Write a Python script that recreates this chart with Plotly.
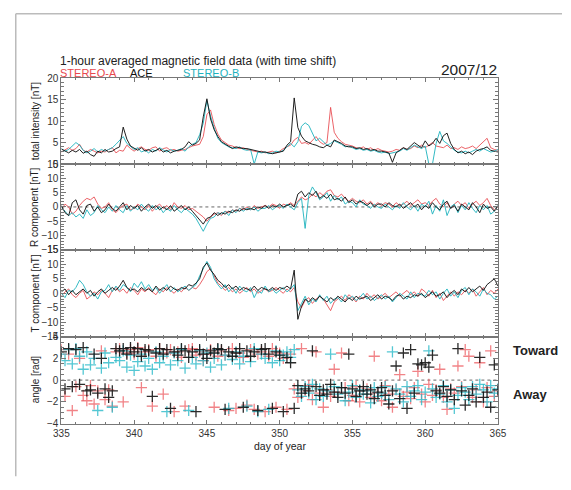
import numpy as np
import plotly.graph_objects as go

# ---------------- data (sampled every 0.25 day from day 335) ----------------
t0 = 335.0
dt = 0.25

btot_ace = [3.5,3.0,2.6,3.2, 2.8,3.4,2.5,3.0, 2.2,1.8,3.0,2.6, 3.4,2.8,3.0,3.6,
            4.0,8.6,5.8,4.2, 3.6,3.2,3.8,3.0, 3.4,2.8,3.2,3.6, 2.8,3.2,2.6,3.0,
            3.2,3.4,4.0,5.2, 4.4,4.8,5.6,11.0, 15.2,10.5,8.0,6.4, 5.2,4.6,4.0,3.6,
            4.0,3.8,3.6,3.6, 3.4,3.2,3.0,2.8, 2.8,2.6,2.4,2.6, 2.8,3.0,4.4,5.2,
            15.4,8.5,6.5,5.4, 5.0,4.6,4.4,4.0, 3.8,4.4,4.0,5.6, 5.2,4.8,4.2,4.0,
            4.0,3.6,3.8,3.4, 3.6,3.2,3.4,3.0, 3.0,2.8,2.6,0.4, 2.6,3.2,3.8,3.4,
            4.2,5.0,4.4,3.8, 5.4,4.2,4.8,6.0, 4.8,6.6,7.2,4.8, 3.4,2.6,3.0,2.4,
            2.8,2.2,3.0,3.4, 3.6,4.0,3.2,3.0, 2.8]
btot_sta = [2.8,3.4,3.8,3.2, 3.6,4.6,3.2,2.8, 3.4,3.0,2.6,3.0, 2.8,3.4,3.8,2.6,
            3.2,3.0,4.4,3.6, 3.0,3.6,4.0,3.4, 3.2,3.8,4.0,3.0, 3.6,3.8,3.2,3.4,
            3.0,3.2,3.4,3.8, 4.2,4.4,4.6,6.4, 11.5,12.6,9.2,7.0, 5.6,5.0,4.4,4.2,
            3.8,3.6,3.8,3.4, 3.2,3.0,2.8,3.0, 2.6,2.8,3.0,2.6, 3.0,3.6,4.0,4.4,
            5.6,6.2,4.8,5.0, 4.6,5.4,6.4,5.2, 4.6,5.0,13.2,7.4, 6.0,5.2,4.6,4.4,
            4.2,3.8,3.6,4.0, 3.4,3.8,3.2,3.6, 3.2,3.0,2.8,3.0, 3.4,3.2,3.8,3.4,
            3.6,4.2,3.8,4.4, 3.8,4.4,5.0,4.2, 4.0,3.8,4.4,3.6, 3.8,3.4,4.0,3.6,
            3.8,4.2,3.6,4.4, 5.0,6.0,3.8,3.4, 3.2]
btot_stb = [3.6,3.0,3.4,4.2, 5.0,4.4,3.2,2.6, 3.0,3.6,2.8,3.4, 3.0,3.4,3.8,4.6,
            5.6,6.4,4.8,4.0, 3.4,3.8,2.8,3.2, 2.6,3.4,3.0,3.8, 3.2,2.8,3.4,3.0,
            3.2,3.6,3.0,4.0, 4.6,5.0,6.8,9.5, 14.8,11.2,8.4,6.0, 5.0,4.4,4.0,3.8,
            3.6,4.0,3.4,3.2, 3.4,0.0,2.8,2.6, 2.8,2.4,2.6,3.0, 2.8,3.2,4.0,4.8,
            4.0,5.2,8.8,9.6, 9.0,7.2,5.4,6.0, 5.2,4.4,4.8,5.4, 5.0,4.6,4.0,4.2,
            3.8,3.4,3.6,3.2, 3.4,3.0,3.2,2.8, 2.6,2.8,2.4,2.6, 2.8,3.0,3.6,3.2,
            3.8,4.4,4.0,3.6, 4.2,0.0,0.0,4.8, 7.6,5.4,4.8,4.0, 3.2,2.8,2.6,3.0,
            2.6,3.0,3.4,3.0, 3.6,3.2,2.8,3.0, 3.4]

br_ace = [0.5,-2.0,-3.0,1.5, 2.5,-1.0,-2.5,0.5, 1.0,-1.5,0.0,-2.0, -1.0,1.0,-0.5,-1.5,
          0.0,1.5,-1.0,0.5, -0.5,0.5,-1.5,0.0, 1.0,-0.5,0.5,-1.0, 0.0,-1.0,0.5,-1.5,
          -0.5,0.5,-1.0,0.0, -1.5,-3.0,-4.5,-6.0, -4.0,-3.5,-2.0,-3.0, -2.0,-2.5,-1.5,-2.0,
          -1.0,-1.5,-0.5,-1.0, -0.5,-1.0,0.0,-0.5, 0.5,-0.5,0.5,0.0, 1.0,0.0,0.5,1.0,
          0.0,4.5,5.5,3.5, 5.0,4.0,5.5,3.0, 4.0,3.0,4.5,2.5, 3.0,2.0,3.5,1.5,
          2.5,1.0,2.0,1.5, 0.5,1.5,0.0,1.0, 1.0,0.0,1.5,0.5, 0.0,1.0,-0.5,0.5,
          1.5,0.0,1.0,-1.0, 0.5,-0.5,1.5,0.0, -1.0,1.0,2.0,-0.5, 0.5,-1.5,1.0,0.0,
          -1.0,1.5,0.0,-2.0, 1.0,-0.5,0.0,-1.5, 0.5]
br_sta = [-1.0,1.0,0.0,-2.5, -1.5,0.5,2.0,3.0, 2.5,3.5,1.0,-0.5, 0.0,1.5,-1.0,-2.0,
          -0.5,0.5,1.0,-1.0, -0.5,1.0,0.0,-1.0, 0.5,-1.5,0.0,1.0, -0.5,0.5,-1.0,1.5,
          0.0,-0.5,0.5,-1.0, -0.5,-1.5,-2.5,-3.5, -5.0,-3.5,-2.5,-2.0, -3.0,-1.5,-2.0,-1.0,
          -1.5,-0.5,-1.0,0.0, -1.0,0.5,-0.5,0.0, 0.5,0.0,1.0,0.5, -0.5,1.0,0.5,1.5,
          0.5,2.0,3.5,2.5, 3.0,4.5,3.5,5.0, 4.0,5.5,6.0,4.0, 3.5,4.5,3.0,2.0,
          3.0,2.0,1.5,2.5, 1.0,2.0,0.5,1.5, 0.5,1.5,1.0,0.0, 1.5,0.5,1.0,2.0,
          0.5,1.5,2.5,1.0, 1.5,0.5,2.0,3.0, 1.0,0.0,1.5,-0.5, 1.0,2.0,0.5,1.5,
          -0.5,1.0,2.0,0.5, 1.5,3.0,0.5,-1.0, 0.0]
br_stb = [0.0,-1.5,-3.0,-2.0, -3.5,-2.5,-4.0,-1.0, -3.0,-2.0,0.5,-1.0, -2.0,0.0,-1.5,0.5,
          -1.0,-2.0,0.5,-1.5, 0.0,-1.0,1.0,-0.5, -1.5,0.5,-1.0,0.0, -2.0,-0.5,-1.5,0.5,
          -1.0,-2.0,-0.5,-1.5, -2.5,-4.0,-6.5,-8.5, -6.0,-4.0,-3.5,-2.0, -2.5,-1.5,-3.0,-1.0,
          -2.0,-0.5,-1.5,-0.5, -1.0,0.0,-1.5,-0.5, -0.5,0.5,-1.0,0.0, 0.5,-0.5,1.0,0.0,
          -1.0,1.5,3.0,-7.5, 4.0,7.0,5.0,2.5, 3.5,5.0,2.0,4.0, 2.5,3.5,1.0,2.0,
          1.5,0.0,2.5,1.0, 0.5,-0.5,1.0,0.0, -0.5,1.0,0.0,-1.0, 0.5,-0.5,1.5,0.0,
          -1.0,0.5,-1.5,1.0, 0.0,2.0,-2.5,0.5, -1.5,2.5,-3.0,0.0, 1.0,-2.0,0.5,-1.0,
          1.5,-0.5,-2.0,0.5, -1.0,0.5,-2.5,-1.5, 0.5]

bt_ace = [0.5,1.5,-0.5,1.0, -0.5,0.5,1.5,0.0, 1.0,-1.0,0.5,1.5, 0.0,1.0,2.0,1.0,
          2.5,4.5,2.0,1.0, 1.5,0.5,2.0,1.0, 1.5,0.5,2.5,1.0, 2.0,1.0,2.5,1.5,
          1.0,2.0,1.5,3.0, 2.5,3.5,5.0,9.0, 10.5,8.0,6.5,4.5, 3.5,2.0,3.0,1.5,
          2.5,1.0,2.0,1.5, 1.0,2.5,1.0,2.0, 1.5,1.0,2.0,1.0, 2.0,1.5,2.5,1.5,
          8.0,-9.0,-4.5,-2.0, -3.0,-1.5,-2.5,-1.0, -2.0,-3.0,-1.5,-2.5, -1.0,-2.0,-3.0,-1.5,
          -2.5,-1.0,-2.0,-1.5, -1.0,-2.5,-1.5,-0.5, -2.0,-1.0,-1.5,-2.5, -1.0,-0.5,-2.0,-1.0,
          -1.5,-0.5,-1.0,0.0, -1.5,-0.5,0.5,-1.0, -0.5,0.5,-1.5,0.0, 1.0,-0.5,1.5,0.5,
          2.0,0.5,1.5,2.5, 1.0,3.0,4.0,5.0, 2.5]
bt_sta = [-1.0,0.5,1.5,-0.5, -1.5,0.0,1.0,-2.0, -1.0,0.5,-0.5,1.0, 0.0,-1.5,1.0,2.0,
          0.5,1.5,0.0,2.0, 1.0,-0.5,1.5,0.5, 2.0,0.5,-0.5,1.5, 0.5,2.0,1.0,0.0,
          1.5,0.5,2.0,1.0, 2.0,1.5,3.0,5.0, 7.5,8.5,6.0,3.5, 2.5,1.0,2.0,0.5,
          1.5,0.0,1.0,2.0, 0.5,1.5,0.0,1.0, 1.5,0.5,1.0,2.0, 1.0,0.0,1.5,0.5,
          2.0,-3.0,-5.0,-2.5, -1.5,-3.5,-2.0,-1.0, -2.0,-4.0,-6.0,-3.0, -2.0,-1.0,-2.5,-0.5,
          -1.5,-3.0,-1.0,-2.0, 0.0,-1.5,-0.5,-2.0, -1.0,0.0,-1.5,-0.5, 0.5,-1.0,0.0,1.0,
          -0.5,0.5,-1.0,1.5, 0.5,-1.0,1.0,-1.5, 0.0,-2.5,-1.0,0.5, -1.0,0.5,-0.5,1.0,
          0.0,1.5,-1.0,0.5, 2.0,-0.5,1.0,0.0, 1.5]
bt_stb = [0.0,-1.5,1.0,0.5, 2.0,4.5,3.0,0.5, -1.0,0.0,-2.0,0.5, 1.0,3.0,0.5,2.5,
          1.0,3.0,2.0,0.5, 3.5,2.0,4.0,1.5, 3.0,1.0,2.0,0.0, 1.5,3.0,0.5,2.0,
          0.5,1.5,2.5,1.0, 2.0,3.0,6.0,8.5, 11.0,9.0,5.0,3.0, 1.5,3.0,0.5,2.0,
          0.0,2.5,1.0,0.5, 2.0,-1.5,1.0,0.0, 2.5,0.5,1.5,0.0, 1.0,2.0,0.5,1.5,
          3.0,-6.0,-3.5,-1.0, -4.0,-2.0,-3.0,-0.5, -2.5,-1.0,-3.5,-2.0, -1.5,-3.0,-0.5,-2.0,
          -1.0,-2.5,-1.5,0.0, -2.0,-1.0,-2.5,-1.5, -0.5,-2.0,-1.0,-3.0, -1.5,0.0,-1.0,-2.0,
          0.5,-1.5,0.0,-0.5, -1.0,1.0,-0.5,0.5, -2.0,0.0,1.5,-1.0, 0.5,-1.5,1.0,2.0,
          -0.5,1.5,0.5,-1.0, 1.5,0.0,-0.5,-2.0, -1.0]

ang_ace = [2.6,-0.8,2.9,-0.6, 2.8,-0.4,3.0,-1.0, -0.9,2.4,-1.2,2.0, -0.8,-1.6,-1.0,2.9,
           2.7,2.9,2.4,3.0, 2.6,2.9,2.2,2.8, 2.7,-1.5,2.5,2.9, 2.4,2.8,-2.6,2.6,
           2.3,2.9,2.7,2.1, 2.6,-2.9,2.8,2.4, 2.0,2.7,2.5,2.9, 2.8,-2.7,2.6,2.2,
           2.5,2.9,-2.5,2.7, 2.2,2.6,-2.8,2.8, 2.9,2.4,-2.6,2.6, 2.3,-2.9,2.1,1.6,
           -2.6,-0.5,-1.2,-0.8, -1.0,2.7,-0.6,-1.4, -0.9,-1.3,-0.4,-1.1, -1.6,-0.7,-1.2,2.4,
           -0.8,-1.5,-1.0,-0.6, -1.3,-0.9,-1.7,-1.1, -0.7,-1.4,-2.2,-1.0, 1.3,-1.7,2.5,-2.6,
           2.8,-1.2,1.5,1.4, 1.6,1.2,2.3,-1.0, -1.2,-0.6,-1.5,-0.9, -1.8,2.9,-1.0,-2.3,
           -1.4,-0.8,-2.0,2.1, -1.6,-1.1,-2.5,1.4, -0.9]
ang_sta = [2.8,-1.5,2.4,-2.8, -0.6,2.0,-1.4,-1.9, -0.5,-2.2,-1.0,2.7, -1.8,-0.9,-2.4,2.6,
           2.9,-2.0,2.5,2.8, 2.4,3.0,-0.7,2.6, 2.8,-2.4,2.2,2.9, -1.3,2.5,2.8,-2.9,
           2.6,2.1,-2.4,2.8, 2.9,2.3,2.6,1.8, 2.4,2.8,-2.5,2.2, 2.7,2.3,-2.8,2.9,
           -2.6,2.5,2.1,-2.3, 2.8,-2.7,2.4,2.6, -2.9,2.2,2.9,-2.5, 2.5,2.0,-2.7,2.4,
           -0.8,-1.6,2.9,-1.0, -0.5,-1.8,2.6,-1.2, -2.5,-0.9,-1.5,1.0, -1.1,2.5,-0.7,-1.9,
           -1.4,-0.6,-2.0,-1.0, -0.8,-1.6,2.2,-1.2, -1.9,-0.5,-1.3,-2.5, -0.9,0.5,-1.5,-1.1,
           -1.7,-0.7,0.8,-1.3, -2.0,-0.4,-1.4,-0.9, 1.0,-1.6,-2.7,-0.8, -1.2,1.3,-0.6,2.8,
           2.2,-1.6,-0.9,1.6, -2.0,-0.7,2.7,-1.5, -1.0]
ang_stb = [2.4,1.8,2.8,1.5, 2.9,2.2,1.0,2.6, 1.4,2.0,-2.8,1.1, 2.5,1.6,-2.5,2.1,
           1.8,2.7,1.2,2.3, 0.9,1.7,2.4,1.3, 2.0,1.0,2.6,1.6, 2.2,-2.9,1.4,2.5,
           1.8,2.8,1.1,-2.8, 2.1,1.5,2.7,1.8, 2.5,1.2,2.0,2.8, 1.4,2.3,-2.6,1.9,
           2.6,1.5,2.2,-2.4, 1.7,2.9,-2.9,2.4, 2.0,-2.7,1.6,2.7, 1.8,2.3,2.6,2.1,
           2.8,-0.9,-1.5,-0.6, -1.2,-0.4,-1.8,-0.8, -1.5,-1.0,2.4,-0.6, -1.3,-0.7,-1.9,-1.1,
           -0.5,-1.6,-0.9,-1.3, -1.0,-2.1,-0.7,-1.5, -1.2,-0.6,-1.8,2.6, -0.8,-1.3,-2.0,-0.6,
           -1.5,-1.0,-0.5,-1.8, -1.1,2.7,-0.8,-1.6, -1.3,-0.5,-2.0,-0.9, -2.6,-1.4,-0.7,-1.1,
           -1.8,-0.6,-1.3,-0.4, -0.9,-2.0,-0.5,-1.2, -0.8]

x_ticks = [335, 340, 345, 350, 355, 360, 365]
series_names = ["STEREO-A", "ACE", "STEREO-B"]
panel_titles = ["total intensity [nT]", "R component [nT]", "T component [nT]", "angle [rad]"]

# ---------------- styling ----------------
W, H = 571, 490
RED = "rgba(232,72,78,0.85)"
BLK = "rgba(20,20,20,0.95)"
CYN = "rgba(30,178,190,0.9)"
RED_M = "rgba(236,90,95,0.75)"
BLK_M = "rgba(20,20,20,0.9)"
CYN_M = "rgba(40,185,200,0.8)"
colors = {"STEREO-A": RED, "ACE": BLK, "STEREO-B": CYN}
mcolors = {"STEREO-A": RED_M, "ACE": BLK_M, "STEREO-B": CYN_M}

def px_x(p):
    return p / W

def px_y(p):
    return 1 - p / H

XL, XR = 55, 505
edges = [74, 162, 250, 339, 428]

def times(v):
    return t0 + dt * np.arange(len(v))

fig = go.Figure()

line_sets = [
    {"STEREO-A": btot_sta, "STEREO-B": btot_stb, "ACE": btot_ace},
    {"STEREO-A": br_sta, "STEREO-B": br_stb, "ACE": br_ace},
    {"STEREO-A": bt_sta, "STEREO-B": bt_stb, "ACE": bt_ace},
]
for i, sets in enumerate(line_sets):
    ax = "" if i == 0 else str(i + 1)
    for name in ["STEREO-A", "STEREO-B", "ACE"]:
        v = sets[name]
        fig.add_trace(go.Scatter(x=times(v), y=v, mode="lines",
                                 line=dict(color=colors[name], width=1),
                                 xaxis="x" + ax, yaxis="y" + ax,
                                 showlegend=False, hoverinfo="skip"))

ang_sets = {"STEREO-A": ang_sta, "STEREO-B": ang_stb, "ACE": ang_ace}
for name in ["STEREO-A", "STEREO-B", "ACE"]:
    v = ang_sets[name]
    fig.add_trace(go.Scatter(x=times(v), y=v, mode="markers",
                             marker=dict(symbol="cross-thin", size=8,
                                         color=mcolors[name],
                                         line=dict(color=mcolors[name], width=1.3)),
                             xaxis="x4", yaxis="y4",
                             showlegend=False, hoverinfo="skip"))

axis_line = dict(showline=True, mirror="ticks", linecolor="#777", linewidth=1,
                 ticks="inside", tickcolor="#777", showgrid=False, zeroline=False)

yranges = [(0, 20, 5, 1), (-15, 15, 5, 1), (-15, 15, 5, 1), (-4, 4, 2, 0.5)]
layout = dict(width=W, height=H, margin=dict(l=0, r=0, t=0, b=0),
              paper_bgcolor="white", plot_bgcolor="white", showlegend=False)

for i in range(4):
    ax = "" if i == 0 else str(i + 1)
    top, bot = edges[i], edges[i + 1]
    lo, hi, dtk, mn = yranges[i]
    layout["xaxis" + ax] = dict(axis_line, domain=[px_x(XL), px_x(XR)],
                                range=[335, 365], tickvals=x_ticks,
                                ticklen=4, anchor="y" + ax,
                                minor=dict(dtick=1, tick0=335, ticks="inside", ticklen=2, tickcolor="#777"),
                                showticklabels=(i == 3),
                                tickfont=dict(family="Liberation Sans, Arial", size=10, color="#333"))
    layout["yaxis" + ax] = dict(axis_line, domain=[px_y(bot), px_y(top)],
                                range=[lo, hi], dtick=dtk, tick0=lo, ticklen=5,
                                anchor="x" + ax,
                                minor=dict(dtick=mn, ticks="inside", ticklen=2.5, tickcolor="#777"),
                                tickfont=dict(family="Liberation Sans, Arial", size=10, color="#333"))
fig.update_layout(**layout)

# dotted zero lines
for ax in ["2", "4"]:
    fig.add_shape(type="line", xref="x" + ax, yref="y" + ax, x0=335, x1=365, y0=0, y1=0,
                  line=dict(color="#666", width=1, dash="dot"), layer="below")

# outer frame lines
fig.add_shape(type="line", xref="paper", yref="paper", x0=px_x(8), x1=px_x(8),
              y0=px_y(8), y1=px_y(482), line=dict(color="#bbb", width=1.5))
fig.add_shape(type="line", xref="paper", yref="paper", x0=px_x(8), x1=1,
              y0=px_y(8), y1=px_y(8), line=dict(color="#bbb", width=1.5))

FONT = "Liberation Sans, Arial"

def ann(text, x, y, size, color="#222", xanchor="left", angle=0, bold=False):
    fig.add_annotation(text=("<b>%s</b>" % text) if bold else text,
                       x=px_x(x), y=px_y(y), xref="paper", yref="paper",
                       xanchor=xanchor, yanchor="middle", showarrow=False,
                       textangle=angle, font=dict(family=FONT, size=size, color=color))

ann("1-hour averaged magnetic field data (with time shift)", 52, 56, 12)
ann(series_names[0], 52, 69, 11, color="rgb(232,72,78)")
ann(series_names[1], 124, 69, 11, color="#111")
ann(series_names[2], 178, 69, 11, color="rgb(30,178,190)")
ann("2007/12", 506, 65, 15.5, xanchor="right")

for i, title in enumerate(panel_titles):
    ann(title, 28, (edges[i] + edges[i + 1]) / 2, 10, xanchor="center", angle=-90)

ann("day of year", (XL + XR) / 2, 451, 10.5, xanchor="center")
ann("Toward", 518, 353, 13, bold=True)
ann("Away", 518, 398, 13, bold=True)

fig.write_html("out.html")
